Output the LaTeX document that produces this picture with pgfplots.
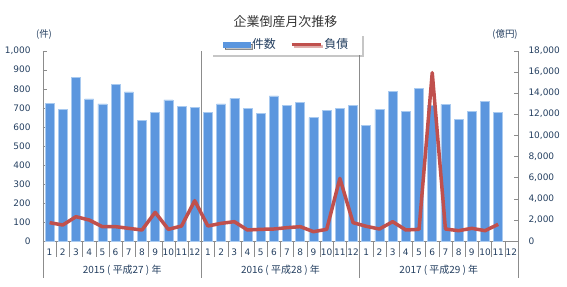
\documentclass[border=0pt]{standalone}
\usepackage{pgfplots}
\pgfplotsset{compat=1.18}
\usepackage{fontspec}
\setmainfont{DejaVu Sans}
\newfontfamily\jp{Noto Sans CJK JP}
\usetikzlibrary{shadows}
\definecolor{barblue}{HTML}{5B96DE}
\definecolor{baredge}{HTML}{A9CAF0}
\definecolor{linered}{HTML}{C0504D}
\definecolor{txt}{HTML}{243F60}
\definecolor{axgray}{HTML}{8C8C8C}
\begin{document}
\begin{tikzpicture}
\path[use as bounding box] (-43bp,-46bp) rectangle (524bp,241bp);
% category separators (drawn first, behind bars and legend)
\foreach \i in {1,...,35} \draw[axgray] ({\i*13.19444bp},0) -- ++(0,-16bp);
\foreach \i in {0,12,24,36} \draw[axgray] ({\i*13.19444bp},0) -- ++(0,-37bp);
\foreach \i in {12,24} \draw[axgray] ({\i*13.19444bp},0) -- ++(0,190.3bp);
\pgfplotsset{
  common/.style={
    at={(0,0)}, anchor=south west,
    scale only axis, width=475bp, height=190.3bp,
    xmin=-0.5, xmax=35.5,
    axis line style={axgray,-},
    tick align=inside, major tick length=4bp,
    /pgf/number format/1000 sep={,},
    /pgf/number format/assume math mode=true,
    ticklabel style={font=\fontsize{9}{10}\selectfont, text=txt},
    clip=false,
  }
}
\begin{axis}[common,
  ymin=0, ymax=1000,
  axis x line*=bottom, axis y line*=left,
  ytick={0,100,...,1000},
  ytick style={axgray},
  yticklabel style={xshift=-9bp},
  xtick={0,...,35},
  xticklabels={1,2,3,4,5,6,7,8,9,10,11,12,1,2,3,4,5,6,7,8,9,10,11,12,1,2,3,4,5,6,7,8,9,10,11,12},
  x tick style={draw=none},
  xticklabel style={yshift=-4bp},
]
\addplot[ybar, bar width=9bp, fill=barblue, draw=baredge, line width=0.6bp] coordinates {
(0,721)(1,690)(2,859)(3,747)(4,720)(5,821)(6,783)(7,632)(8,675)(9,741)(10,709)(11,700)
(12,675)(13,720)(14,749)(15,697)(16,669)(17,763)(18,712)(19,730)(20,648)(21,686)(22,695)(23,712)
(24,607)(25,692)(26,785)(27,681)(28,802)(29,712)(30,718)(31,638)(32,681)(33,734)(34,676)
};
\end{axis}
\begin{axis}[common,
  ymin=0, ymax=18000,
  axis x line=none, axis y line*=right,
  ytick={0,2000,...,18000},
  scaled y ticks=false,
  ytick style={axgray},
  yticklabel style={xshift=7bp},
  legend style={at={(0.5126,1.0326)}, anchor=center, legend columns=2,
    draw=none, fill=white,
    drop shadow={shadow xshift=2bp, shadow yshift=-2bp, opacity=0.45},
    font=\jp\fontsize{12}{13}\selectfont, text=txt,
    inner xsep=12bp, inner ysep=3bp,
    /tikz/every even column/.append style={column sep=12bp}},
  legend cell align=left,
]
\addlegendimage{legend image code/.code={\fill[barblue] (0bp,-2.5bp) rectangle (27bp,2.5bp);}}
\addlegendentry{件数}
\addplot[linered, line width=3.5bp, line join=round,
  legend image code/.code={\draw[linered, line width=3.5bp] (0bp,0bp) -- (29bp,0bp);}] coordinates {
(0,1734)(1,1513)(2,2301)(3,1986)(4,1356)(5,1356)(6,1198)(7,1040)(8,2711)(9,1103)(10,1419)(11,3814)
(12,1419)(13,1671)(14,1828)(15,1040)(16,1103)(17,1135)(18,1261)(19,1356)(20,883)(21,1103)(22,5926)(23,1734)
(24,1390)(25,1135)(26,1828)(27,1040)(28,1103)(29,15919)(30,1135)(31,977)(32,1198)(33,977)(34,1576)
};
\addlegendentry{負債}
\end{axis}
% year labels
\foreach \i/\t in {6/{2015 ( 平成27 ) 年},18/{2016 ( 平成28 ) 年},30/{2017 ( 平成29 ) 年}}
  \node[text=txt, font=\jp\fontsize{10}{11}\selectfont] at ({\i*13.19444bp},-29bp) {\t};
% title and units
\node[font=\jp\fontsize{13}{15}\selectfont, text=black!80] at (242.5bp,219.5bp) {企業倒産月次推移};
\node[font=\jp\fontsize{9.5}{11}\selectfont, text=txt] at (1bp,207bp) {(件)};
\node[font=\jp\fontsize{9.5}{11}\selectfont, text=txt] at (462bp,207bp) {(億円)};
\end{tikzpicture}
\end{document}
